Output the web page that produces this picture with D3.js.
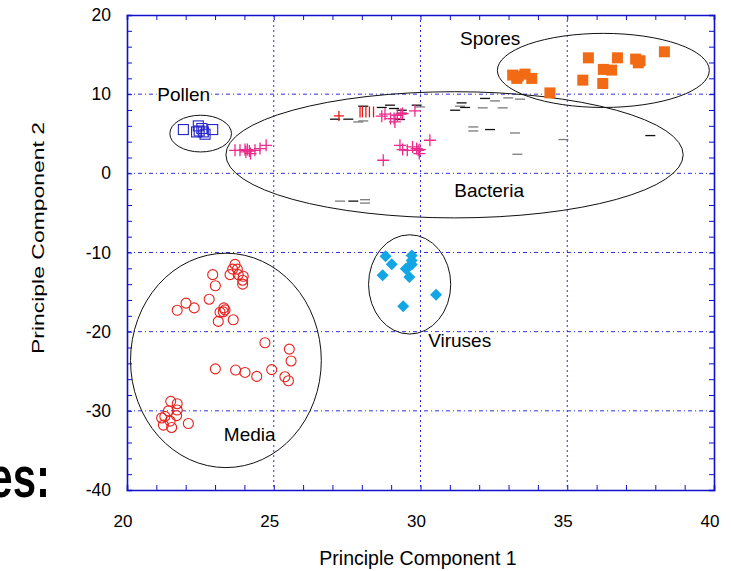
<!DOCTYPE html>
<html>
<head>
<meta charset="utf-8">
<script src="https://cdn.jsdelivr.net/npm/d3@7"></script>
<style>
  body { margin: 0; background: #fff; }
  text { font-family: "Liberation Sans", Arial, sans-serif; }
</style>
</head>
<body>
<div id="chart"></div>
<script>
// media (red open circles)
const media = [
  [23.68, -11.5], [23.6, -12.1], [23.76, -12.1], [23.51, -12.8], [23.79, -12.8],
  [23.96, -13.0], [23.94, -13.5], [23.94, -14.0], [22.92, -12.8], [23.01, -14.2],
  [22.8, -15.9], [22.01, -16.4], [21.71, -17.3], [22.29, -17.0], [23.3, -17.0],
  [23.34, -17.25], [23.28, -17.5], [23.17, -17.55], [23.11, -18.7], [23.62, -18.5],
  [24.7, -21.4], [25.53, -22.2], [25.59, -23.7], [23.01, -24.7], [23.7, -24.85],
  [24.02, -25.15], [24.42, -25.65], [24.93, -24.8], [25.38, -25.7], [25.5, -26.2],
  [21.49, -28.8], [21.71, -29.1], [21.41, -30.0], [21.71, -29.9], [21.29, -30.7],
  [21.69, -30.6], [21.18, -30.9], [21.24, -31.8], [21.52, -32.1], [22.09, -31.6],
  [21.47, -31.3]
];

// viruses (blue diamonds)
const viruses = [
  [28.81, -10.47], [29.02, -11.48], [28.71, -12.87], [29.7, -10.38], [29.7, -11.0],
  [29.7, -11.5], [29.58, -11.85], [29.5, -12.06], [29.62, -13.1], [30.53, -15.35],
  [29.41, -16.8]
];

// spores (orange filled squares)
const spores = [
  [33.14, 12.41], [33.33, 12.28], [33.56, 12.53], [33.28, 11.99], [33.79, 11.99],
  [34.41, 10.16], [35.53, 11.77], [35.72, 14.59], [36.21, 11.35], [36.23, 13.13],
  [36.51, 13.04], [36.71, 14.59], [37.33, 14.43], [37.48, 14.22], [37.42, 13.96],
  [38.31, 15.35]
];

// pollen (blue open squares)
const pollen = [
  [21.92, 5.53], [22.43, 5.99], [22.46, 5.35], [22.37, 5.23], [22.6, 5.23],
  [22.66, 4.94], [22.92, 5.53], [22.55, 5.66]
];

// bacteria, pink crosses
const bacteriaPlus = [
  [23.68, 2.91], [23.85, 2.91], [24.02, 3.0], [24.1, 3.0], [24.17, 2.82],
  [24.21, 2.49], [24.36, 2.91], [24.53, 3.13], [24.74, 3.54], [24.05, 2.7],
  [28.68, 7.22], [28.79, 7.47], [28.98, 6.92], [29.1, 6.92], [29.13, 6.49],
  [29.21, 7.34], [29.33, 7.47], [29.39, 7.56], [29.81, 7.89],
  [28.73, 1.65], [29.3, 3.54], [29.39, 3.0], [29.55, 2.91], [29.73, 3.33],
  [29.87, 3.13], [29.92, 2.91], [29.96, 2.49], [29.98, 3.0], [30.32, 4.18]
];

// bacteria, black dashes
const bacteriaDark = [
  [27.09, 6.84], [27.54, 6.84], [28.05, 8.48], [28.68, 8.32], [28.96, 8.61],
  [29.1, 8.19], [29.36, 7.97], [29.3, 6.8], [29.87, 8.61], [31.18, 7.97],
  [31.4, 8.9], [31.52, 8.32], [32.2, 9.46], [32.37, 5.53], [37.83, 4.77],
  [27.71, -3.51]
];

// bacteria, grey dashes
const bacteriaGrey = [
  [27.88, 6.49], [28.05, 6.62], [29.36, 7.63], [29.98, 8.39], [31.35, 8.48],
  [32.12, 8.27], [32.54, 9.15], [32.8, 8.27], [32.99, 9.53], [33.39, 9.37],
  [31.8, 5.86], [31.8, 5.35], [33.22, 5.1], [34.87, 4.27], [33.3, 2.41],
  [27.26, -3.51], [28.11, -3.33], [28.11, -3.76]
];

// bacteria, red bars
const bacteriaRed = [
  [27.94, 7.76], [28.02, 7.76], [28.14, 7.76], [28.26, 7.76], [28.4, 7.76]
];
const bacteriaRedPlus = [[27.22, 7.25]];

// group outlines: name, centre x, centre y, radius x, radius y
const groups = [
  { name: "Pollen",   cx: 22.51, cy: 5.02,   rx: 1.05, ry: 2.32 },
  { name: "Bacteria", cx: 31.16, cy: 2.34,   rx: 7.79, ry: 7.97 },
  { name: "Spores",   cx: 36.23, cy: 13.0,   rx: 3.61, ry: 4.68 },
  { name: "Viruses",  cx: 29.63, cy: -14.03, rx: 1.4,  ry: 6.27 },
  { name: "Media",    cx: 23.37, cy: -23.63, rx: 3.25, ry: 13.54 }
];

// label anchors (data coords, left/baseline)
const groupLabels = [
  { text: "Pollen",   x: 21.03, y: 9.2 },
  { text: "Spores",   x: 31.35, y: 16.2 },
  { text: "Bacteria", x: 31.15, y: -3.0 },
  { text: "Viruses",  x: 30.26, y: -21.9 },
  { text: "Media",    x: 23.3,  y: -33.8 }
];

const xTicks = [20, 25, 30, 35, 40];
const yTicks = [20, 10, 0, -10, -20, -30, -40];

const width = 731;
const height = 571;

const svg = d3.select("#chart")
    .append("svg")
    .attr("width", width)
    .attr("height", height);

const x = d3.scaleLinear().domain([20, 40]).range([127, 714]);
const y = d3.scaleLinear().domain([-40, 20]).range([490, 15]);

const axisBlue = "#1010cc";
const gridBlue = "#2f2fe0";

// grid
svg.append("g")
    .selectAll("line")
    .data(xTicks.slice(1, -1))
    .enter()
    .append("line")
    .attr("x1", d => x(d)).attr("x2", d => x(d))
    .attr("y1", y(20)).attr("y2", y(-40))
    .attr("stroke", gridBlue)
    .attr("stroke-width", 1)
    .attr("stroke-dasharray", "2,3");

svg.append("g")
    .selectAll("line")
    .data(yTicks.slice(1, -1))
    .enter()
    .append("line")
    .attr("x1", x(20)).attr("x2", x(40))
    .attr("y1", d => y(d)).attr("y2", d => y(d))
    .attr("stroke", gridBlue)
    .attr("stroke-width", 1)
    .attr("stroke-dasharray", "4,3,1,3");

// frame with inner ticks on all sides
const axBottom = d3.axisBottom(x).ticks(20).tickSize(-5).tickFormat("");
const axTop = d3.axisTop(x).ticks(20).tickSize(-5).tickFormat("");
const axLeft = d3.axisLeft(y).ticks(30).tickSize(-5).tickFormat("");
const axRight = d3.axisRight(y).ticks(30).tickSize(-5).tickFormat("");

[[axBottom, `translate(0,${y(-40)})`], [axTop, `translate(0,${y(20)})`],
 [axLeft, `translate(${x(20)},0)`], [axRight, `translate(${x(40)},0)`]].forEach(([ax, tr]) => {
    const g = svg.append("g").attr("transform", tr).call(ax);
    g.select(".domain").attr("stroke", axisBlue).attr("stroke-width", 1.6);
    g.selectAll(".tick line").attr("stroke", axisBlue).attr("stroke-width", 1);
});

// tick labels
svg.append("g")
    .selectAll("text")
    .data(xTicks)
    .enter()
    .append("text")
    .attr("x", d => x(d) - 4)
    .attr("y", 527)
    .attr("text-anchor", "middle")
    .style("font-size", "17px")
    .text(d => d);

svg.append("g")
    .selectAll("text")
    .data(yTicks)
    .enter()
    .append("text")
    .attr("x", 111)
    .attr("y", d => y(d) + 6)
    .attr("text-anchor", "end")
    .style("font-size", "17.5px")
    .text(d => d);

// axis titles
svg.append("text")
    .attr("x", 418)
    .attr("y", 565)
    .attr("text-anchor", "middle")
    .style("font-size", "19.5px")
    .text("Principle Component 1");

svg.append("text")
    .attr("transform", "translate(44,238) rotate(-90)")
    .attr("text-anchor", "middle")
    .attr("textLength", 232)
    .attr("lengthAdjust", "spacingAndGlyphs")
    .style("font-size", "17px")
    .text("Principle Component 2");

// leftover of the slide title
svg.append("text")
    .attr("transform", "translate(50,497) scale(1,1.35)")
    .attr("text-anchor", "end")
    .style("font-size", "42px")
    .style("font-weight", "bold")
    .text("es:");

// group outlines
svg.append("g")
    .selectAll("ellipse")
    .data(groups)
    .enter()
    .append("ellipse")
    .attr("cx", d => x(d.cx))
    .attr("cy", d => y(d.cy))
    .attr("rx", d => x(d.cx + d.rx) - x(d.cx))
    .attr("ry", d => y(d.cy - d.ry) - y(d.cy))
    .attr("fill", "none")
    .attr("stroke", "#111")
    .attr("stroke-width", 1);

// markers
svg.append("g")
    .selectAll("circle")
    .data(media)
    .enter()
    .append("circle")
    .attr("cx", d => x(d[0]))
    .attr("cy", d => y(d[1]))
    .attr("r", 5)
    .attr("fill", "none")
    .attr("stroke", "#e8201c")
    .attr("stroke-width", 1.1);

svg.append("g")
    .selectAll("rect")
    .data(pollen)
    .enter()
    .append("rect")
    .attr("x", d => x(d[0]) - 5)
    .attr("y", d => y(d[1]) - 5)
    .attr("width", 10)
    .attr("height", 10)
    .attr("fill", "none")
    .attr("stroke", "#2424c8")
    .attr("stroke-width", 1.1);

svg.append("g")
    .selectAll("rect")
    .data(spores)
    .enter()
    .append("rect")
    .attr("x", d => x(d[0]) - 5.5)
    .attr("y", d => y(d[1]) - 5.5)
    .attr("width", 11)
    .attr("height", 11)
    .attr("fill", "#f26a14");

svg.append("g")
    .selectAll("path")
    .data(viruses)
    .enter()
    .append("path")
    .attr("transform", d => `translate(${x(d[0])},${y(d[1])})`)
    .attr("d", "M0,-6L6,0L0,6L-6,0Z")
    .attr("fill", "#12a6e4");

const plus = (g, data, color, len) => {
    g.selectAll("path")
        .data(data)
        .enter()
        .append("path")
        .attr("transform", d => `translate(${x(d[0])},${y(d[1])})`)
        .attr("d", `M${-len},0H${len}M0,${-len}V${len}`)
        .attr("stroke", color)
        .attr("stroke-width", 1.3)
        .attr("fill", "none");
};

const dash = (g, data, color) => {
    g.selectAll("line")
        .data(data)
        .enter()
        .append("line")
        .attr("x1", d => x(d[0]) - 5).attr("x2", d => x(d[0]) + 5)
        .attr("y1", d => y(d[1])).attr("y2", d => y(d[1]))
        .attr("stroke", color)
        .attr("stroke-width", 1.3);
};

dash(svg.append("g"), bacteriaGrey, "#7a7a7a");
dash(svg.append("g"), bacteriaDark, "#111");

svg.append("g")
    .selectAll("line")
    .data(bacteriaRed)
    .enter()
    .append("line")
    .attr("x1", d => x(d[0])).attr("x2", d => x(d[0]))
    .attr("y1", d => y(d[1]) - 5.5).attr("y2", d => y(d[1]) + 5.5)
    .attr("stroke", "#e81818")
    .attr("stroke-width", 1.3);

plus(svg.append("g"), bacteriaRedPlus, "#e81818", 5);
plus(svg.append("g"), bacteriaPlus, "#ee2a8c", 6);

// group labels (white halo cuts the outline like the original)
svg.append("g")
    .selectAll("text")
    .data(groupLabels)
    .enter()
    .append("text")
    .attr("x", d => x(d.x))
    .attr("y", d => y(d.y))
    .style("font-size", "19px")
    .attr("stroke", "#fff")
    .attr("stroke-width", 4)
    .attr("paint-order", "stroke")
    .attr("fill", "#000")
    .text(d => d.text);
</script>
</body>
</html>
